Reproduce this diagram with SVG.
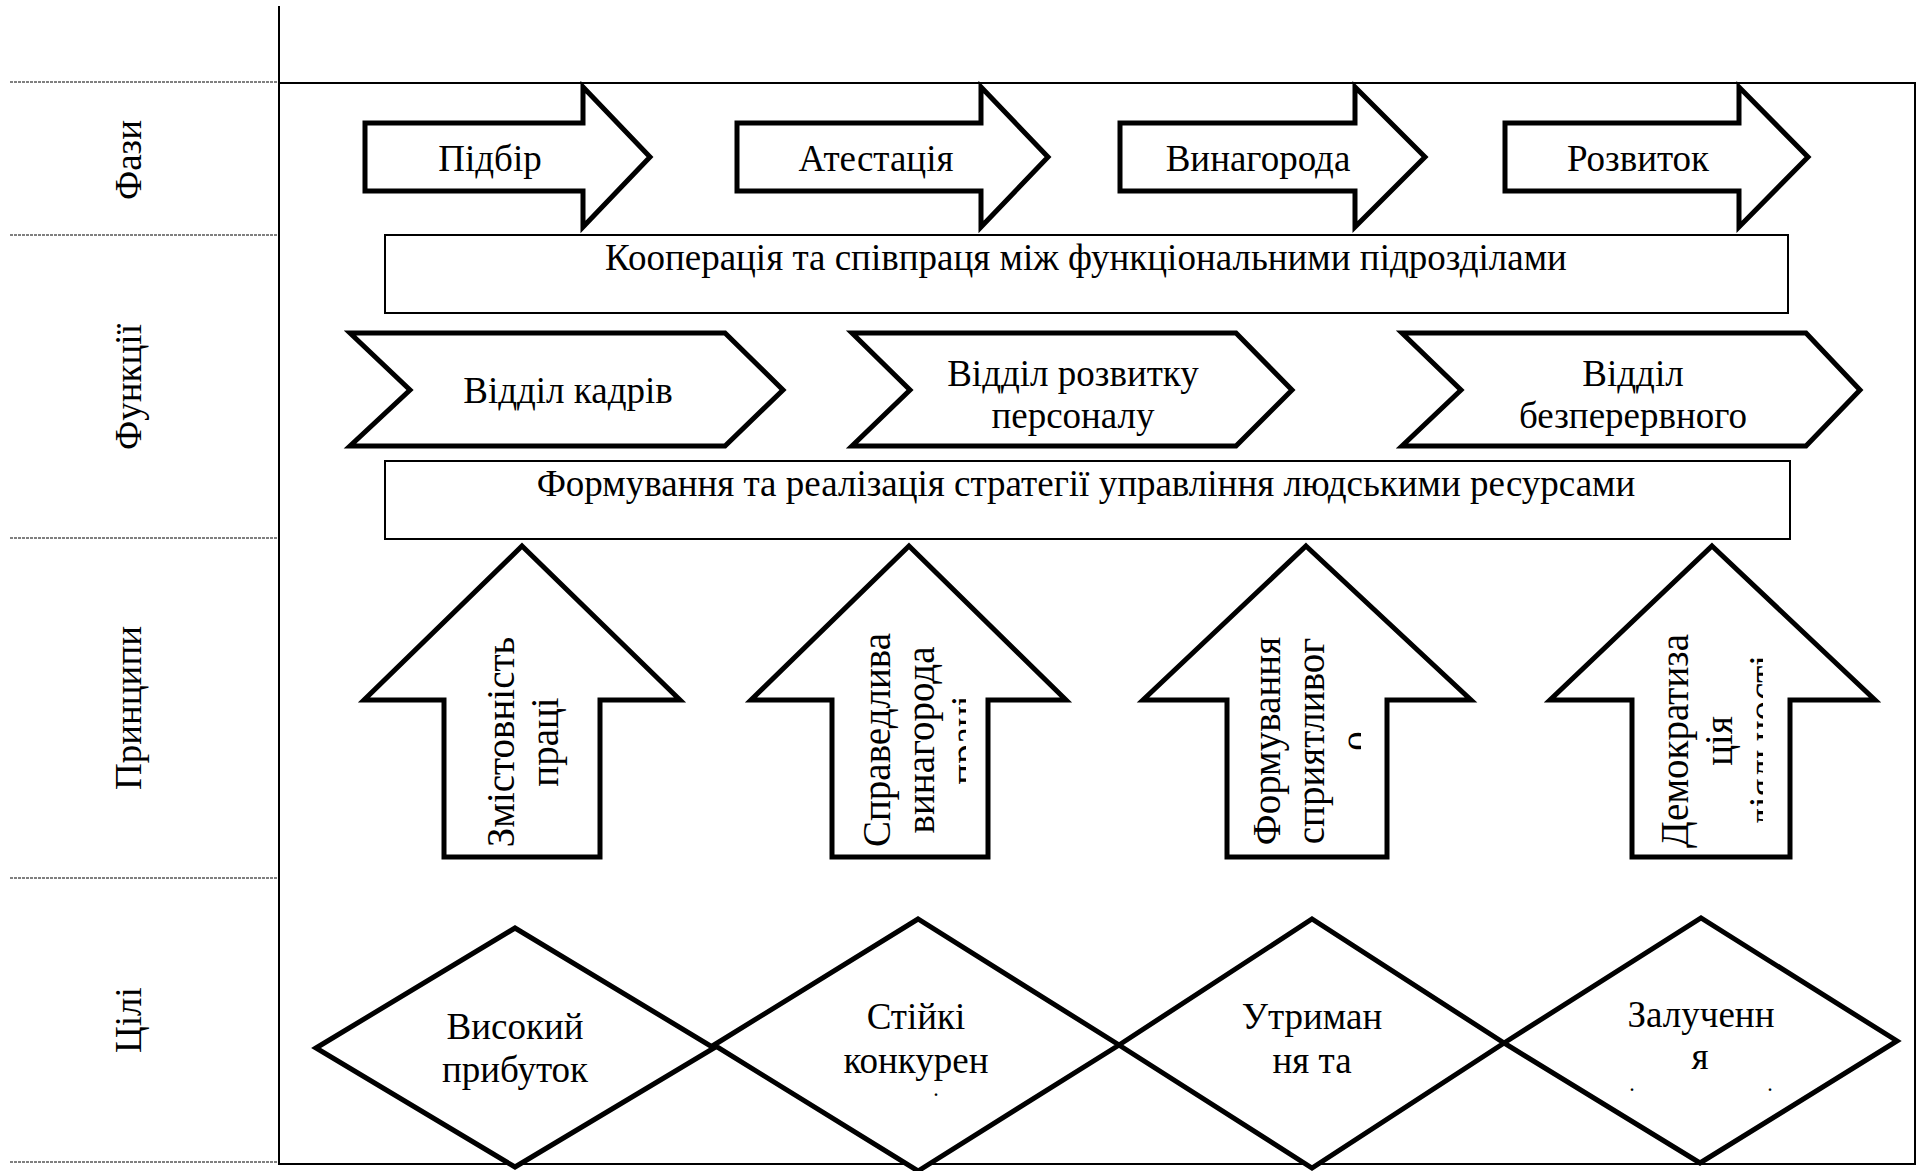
<svg xmlns="http://www.w3.org/2000/svg" width="1921" height="1171" viewBox="0 0 1921 1171">
<style>
text{font-family:"Liberation Serif","Times New Roman",serif;font-size:37px;fill:#000}
.c{text-anchor:middle}
.r{font-size:39px}
.dot{font-size:16px;font-weight:bold}
.shape{fill:#fff;stroke:#000;stroke-width:5;stroke-linejoin:miter}
.box{fill:#fff;stroke:#000;stroke-width:2}
.frame{fill:none;stroke:#000;stroke-width:2}
.dash{stroke:#000;stroke-width:1;stroke-dasharray:3 1}
</style>
<defs>
<clipPath id="clipU2"><rect x="840" y="600" width="126" height="260"/></clipPath>
<clipPath id="clipU3"><rect x="1230" y="600" width="131" height="260"/></clipPath>
<clipPath id="clipU4"><rect x="1640" y="600" width="123" height="260"/></clipPath>
</defs>
<rect width="1921" height="1171" fill="#fff"/>
<g id="frame">
<line class="frame" x1="279" y1="6" x2="279" y2="1165"/>
<polyline class="frame" points="279,83 1915,83 1915,1164 279,1164"/>
<line class="dash" x1="10" y1="82" x2="279" y2="82"/>
<line class="dash" x1="10" y1="235" x2="279" y2="235"/>
<line class="dash" x1="10" y1="538" x2="279" y2="538"/>
<line class="dash" x1="10" y1="878" x2="279" y2="878"/>
<line class="dash" x1="10" y1="1162" x2="279" y2="1162"/>
</g>
<g id="labels">
<text class="c" transform="translate(141,160) rotate(-90)">Фази</text>
<text class="c" transform="translate(141,387) rotate(-90)">Функції</text>
<text class="c" transform="translate(141,708) rotate(-90)">Принципи</text>
<text class="c" transform="translate(141,1020) rotate(-90)">Цілі</text>
</g>
<g id="phase1"><polygon class="shape" points="365,123 583,123 583,87 650,157 583,227 583,191 365,191"/><text class="c" x="490" y="171">Підбір</text></g>
<g id="phase2"><polygon class="shape" points="737,123 981,123 981,87 1048,157 981,227 981,191 737,191"/><text class="c" x="876" y="171">Атестація</text></g>
<g id="phase3"><polygon class="shape" points="1120,123 1355,123 1355,87 1425,157 1355,227 1355,191 1120,191"/><text class="c" x="1258" y="171">Винагорода</text></g>
<g id="phase4"><polygon class="shape" points="1505,123 1739,123 1739,87 1808,157 1739,227 1739,191 1505,191"/><text class="c" x="1638" y="171">Розвиток</text></g>
<g id="coop"><rect class="box" x="385" y="235" width="1403" height="78"/><text class="c" x="1086" y="270">Кооперація та співпраця між функціональними підрозділами</text></g>
<g id="func1"><polygon class="shape" points="350,333 725,333 783,390 725,446 350,446 410,390"/><text class="c" x="568" y="403">Відділ кадрів</text></g>
<g id="func2"><polygon class="shape" points="852,333 1236,333 1292,390 1236,446 852,446 910,390"/><text class="c" x="1073" y="386">Відділ розвитку</text><text class="c" x="1073" y="428">персоналу</text></g>
<g id="func3"><polygon class="shape" points="1402,333 1806,333 1860,390 1806,446 1402,446 1461,390"/><text class="c" x="1633" y="386">Відділ</text><text class="c" x="1633" y="428">безперервного</text></g>
<g id="strategy"><rect class="box" x="385" y="461" width="1405" height="78"/><text class="c" x="1086" y="496">Формування та реалізація стратегії управління людськими ресурсами</text></g>
<g id="princ1"><polygon class="shape" points="522,546 680,700 600,700 600,857 444,857 444,700 364,700"/>
<text class="c r" transform="translate(514,742) rotate(-90)"><tspan x="0" y="0">Змістовність</tspan><tspan x="0" y="44">праці</tspan></text></g>
<g id="princ2"><polygon class="shape" points="909,546 1066,700 988,700 988,857 832,857 832,700 751,700"/>
<g clip-path="url(#clipU2)"><text class="c r" transform="translate(890,740) rotate(-90)"><tspan x="0" y="0">Справедлива</tspan><tspan x="0" y="44">винагорода</tspan><tspan x="0" y="88">праці</tspan></text></g></g>
<g id="princ3"><polygon class="shape" points="1306,546 1471,700 1387,700 1387,857 1227,857 1227,700 1143,700"/>
<g clip-path="url(#clipU3)"><text class="c r" transform="translate(1280,741) rotate(-90)"><tspan x="0" y="0">Формування</tspan><tspan x="0" y="44">сприятливог</tspan><tspan x="0" y="88">о</tspan></text></g></g>
<g id="princ4"><polygon class="shape" points="1712,546 1875,700 1790,700 1790,857 1632,857 1632,700 1550,700"/>
<g clip-path="url(#clipU4)"><text class="c r" transform="translate(1688,741) rotate(-90)"><tspan x="0" y="0">Демократиза</tspan><tspan x="0" y="44">ція</tspan><tspan x="0" y="88">діяльності</tspan></text></g></g>
<g id="goal1"><polygon class="shape" points="316,1048 515,928 714,1048 515,1167"/><text class="c" x="515" y="1039">Високий</text><text class="c" x="515" y="1082">прибуток</text></g>
<g id="goal2"><polygon class="shape" points="714,1045 918,919 1119,1045 918,1171"/><text class="c" x="916" y="1029">Стійкі</text><text class="c" x="916" y="1073">конкурен</text><text class="c dot" x="936" y="1096">.</text></g>
<g id="goal3"><polygon class="shape" points="1119,1045 1312,919 1504,1043 1312,1168"/><text class="c" x="1312" y="1029">Утриман</text><text class="c" x="1312" y="1073">ня та</text></g>
<g id="goal4"><polygon class="shape" points="1504,1043 1701,918 1897,1041 1700,1163"/><text class="c" x="1701" y="1027">Залученн</text><text class="c" x="1700" y="1069">я</text><text class="c dot" x="1632" y="1091">.</text><text class="c dot" x="1770" y="1091">.</text></g>
</svg>
